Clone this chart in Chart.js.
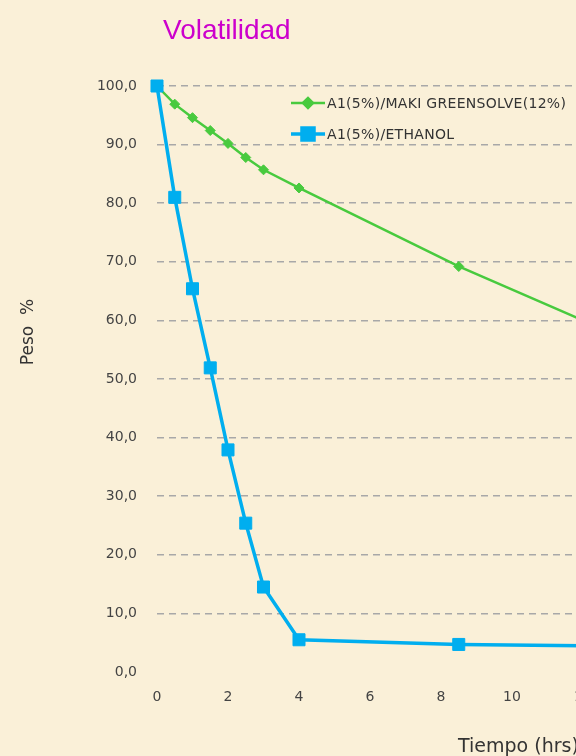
<!DOCTYPE html>
<html>
<head>
<meta charset="utf-8">
<script src="https://cdn.jsdelivr.net/npm/chart.js@4.4.1/dist/chart.umd.min.js"></script>
<style>
  html, body { margin: 0; padding: 0; overflow: hidden; width: 576px; height: 756px;
    background: #FAF0D8; }
  #wrap { position: absolute; left: 0; top: 0; width: 900px; height: 756px; }
</style>
</head>
<body>
<div id="wrap"><canvas id="c" width="900" height="756"></canvas></div>
<script>
const chartTitle = "Volatilidad";
const xAxisTitle = "Tiempo (hrs)";
const yAxisTitle = "Peso  %";
const seriesNames = ["A1(5%)/MAKI GREENSOLVE(12%)", "A1(5%)/ETHANOL"];
const timeGreen = [0, 0.5, 1, 1.5, 2, 2.5, 3, 4, 8.5, 12];
const pesoGreen = [100, 96.9, 94.6, 92.4, 90.2, 87.8, 85.7, 82.6, 69.2, 60.0];
const timeBlue = [0, 0.5, 1, 1.5, 2, 2.5, 3, 4, 8.5, 12];
const pesoBlue = [100, 81.0, 65.4, 51.9, 37.9, 25.4, 14.5, 5.5, 4.7, 4.5];
const yTicks = [0, 10, 20, 30, 40, 50, 60, 70, 80, 90, 100];
const yTickLabels = ["0,0", "10,0", "20,0", "30,0", "40,0", "50,0", "60,0", "70,0", "80,0", "90,0", "100,0"];
const xTicks = [0, 2, 4, 6, 8, 10, 12, 14, 16, 18, 20];

const GREEN = "#48CA3E";
const BLUE = "#00AEEF";

const toPts = (xs, ys) => xs.map((x, i) => ({ x: x, y: ys[i] }));

const textPlugin = {
  id: "texts",
  afterDraw(chart) {
    const ctx = chart.ctx;
    ctx.save();
    // title
    ctx.fillStyle = "#CC00CC";
    ctx.font = "28px 'Liberation Sans', Arial, sans-serif";
    ctx.textAlign = "left";
    ctx.textBaseline = "alphabetic";
    ctx.fillText(chartTitle, 163, 39);
    // y title
    ctx.fillStyle = "#333333";
    ctx.font = "17px 'DejaVu Sans', sans-serif";
    ctx.save();
    ctx.translate(33, 332);
    ctx.rotate(-Math.PI / 2);
    ctx.textAlign = "center";
    ctx.textBaseline = "alphabetic";
    ctx.fillText(yAxisTitle, 0, 0);
    ctx.restore();
    // x title
    ctx.font = "19px 'DejaVu Sans', sans-serif";
    ctx.textAlign = "left";
    ctx.fillText(xAxisTitle, 458, 752);
    // legend
    const items = [
      { name: seriesNames[0], color: GREEN, y: 103, lw: 2.5, style: "rectRot", r: 5 },
      { name: seriesNames[1], color: BLUE, y: 134, lw: 3.5, style: "rect", r: 8.5 }
    ];
    items.forEach(it => {
      ctx.strokeStyle = it.color;
      ctx.lineWidth = it.lw;
      ctx.beginPath();
      ctx.moveTo(291, it.y);
      ctx.lineTo(325, it.y);
      ctx.stroke();
      ctx.fillStyle = it.color;
      Chart.helpers.drawPoint(ctx, { pointStyle: it.style, radius: it.r, borderWidth: 1, rotation: 0 }, 308, it.y);
      ctx.fill();
      ctx.fillStyle = "#333333";
      ctx.font = "14px 'DejaVu Sans', sans-serif";
      if ("letterSpacing" in ctx) ctx.letterSpacing = "0.3px";
      ctx.textAlign = "left";
      ctx.textBaseline = "middle";
      ctx.fillText(it.name, 327, it.y + 1);
      if ("letterSpacing" in ctx) ctx.letterSpacing = "0px";
    });
    ctx.restore();
  }
};

new Chart(document.getElementById("c"), {
  type: "line",
  data: {
    datasets: [
      {
        label: seriesNames[1],
        data: toPts(timeBlue, pesoBlue),
        borderColor: BLUE,
        backgroundColor: BLUE,
        borderWidth: 3.5,
        pointStyle: "rect",
        pointRadius: 8.5,
        pointBorderWidth: 1,
        pointBackgroundColor: BLUE,
        pointBorderColor: BLUE,
        tension: 0,
        clip: false
      },
      {
        label: seriesNames[0],
        data: toPts(timeGreen, pesoGreen),
        borderColor: GREEN,
        backgroundColor: GREEN,
        borderWidth: 2.5,
        pointStyle: "rectRot",
        pointRadius: 5,
        pointBorderWidth: 1,
        pointBackgroundColor: GREEN,
        pointBorderColor: GREEN,
        tension: 0,
        clip: false
      }
    ]
  },
  options: {
    responsive: false,
    animation: false,
    devicePixelRatio: 1,
    layout: { padding: { top: 86, right: 33, left: 0, bottom: 0 } },
    plugins: { legend: { display: false }, tooltip: { enabled: false }, title: { display: false } },
    scales: {
      x: {
        type: "linear",
        min: 0,
        max: 20,
        afterFit(scale) { scale.height = 84; },
        afterBuildTicks(scale) { scale.ticks = xTicks.map(v => ({ value: v })); },
        grid: { display: false, drawTicks: false },
        border: { display: false },
        ticks: {
          padding: 17,
          color: "#444444",
          font: { family: "'DejaVu Sans', sans-serif", size: 14 },
          callback: v => String(v)
        }
      },
      y: {
        type: "linear",
        min: 0,
        max: 100,
        afterFit(scale) { scale.width = 157; },
        afterBuildTicks(scale) { scale.ticks = yTicks.map(v => ({ value: v })); },
        grid: {
          drawTicks: false,
          color: ctx => (ctx.tick && ctx.tick.value === 0) ? "rgba(0,0,0,0)" : "#A8A8A8",
          lineWidth: 1.5
        },
        border: { display: false, dash: [7, 5] },
        ticks: {
          padding: 20,
          color: "#444444",
          font: { family: "'DejaVu Sans', sans-serif", size: 14 },
          callback: v => yTickLabels[yTicks.indexOf(v)]
        }
      }
    }
  },
  plugins: [textPlugin]
});
</script>
</body>
</html>
